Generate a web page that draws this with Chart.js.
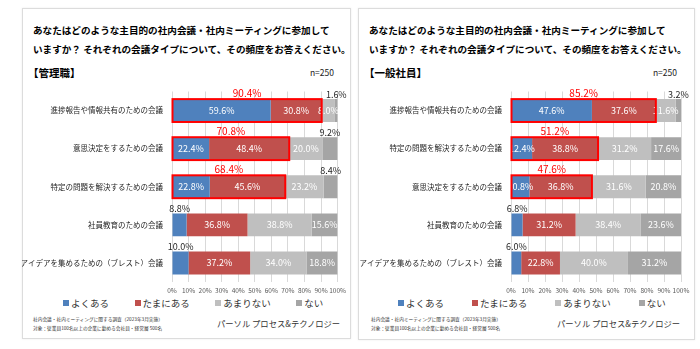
<!DOCTYPE html>
<html>
<head>
<meta charset="utf-8">
<script src="https://cdn.jsdelivr.net/npm/chart.js@4.4.0/dist/chart.umd.min.js"></script>
<style>
  body { margin: 0; width: 700px; height: 349px; background: #fff; position: relative; overflow: hidden;
         font-family: "Noto Sans CJK JP", sans-serif; color: #000; }
  .abs { position: absolute; white-space: nowrap; }
  .panel { position: absolute; border: 1px solid #dcdcdc; box-sizing: border-box; box-shadow: 0 0 2px rgba(0,0,0,0.08); }
  .title { font-size: 9.6px; font-weight: 700; line-height: 19px; }
  .group { font-size: 10.5px; font-weight: 700; line-height: 14px; }
  .n { font-size: 8.5px; line-height: 12px; text-align: right; width: 40px; color: #222; }
  .legend { display: flex; align-items: center; font-size: 9.5px; line-height: 12px; color: #333; }
  .legend .box { display: inline-block; width: 6px; height: 6px; margin-right: 2px; }
  .note { font-size: 4.7px; line-height: 9px; color: #333; }
  .brand { font-size: 8.3px; line-height: 12px; color: #333; }
  canvas { position: absolute; }
</style>
</head>
<body>

<div class="panel" style="left:22px; top:8px; width:329px; height:331px;"></div>
<div class="panel" style="left:358px; top:8px; width:337px; height:332px;"></div>

<div class="abs title" style="left:33px; top:20.5px;">あなたはどのような主目的の社内会議・社内ミーティングに参加して<br>いますか？ それぞれの会議タイプについて、その頻度をお答えください。</div>
<div class="abs title" style="left:369px; top:20.5px;">あなたはどのような主目的の社内会議・社内ミーティングに参加して<br>いますか？ それぞれの会議タイプについて、その頻度をお答えください。</div>

<div class="abs group" style="left:28px; top:66px;">【管理職】</div>
<div class="abs group" style="left:364px; top:66px;">【一般社員】</div>
<div class="abs n" style="left:294px; top:66px;">n=250</div>
<div class="abs n" style="left:637px; top:66px;">n=250</div>

<canvas id="chartMgr" width="329" height="218" style="left:22px; top:78px;"></canvas>
<canvas id="chartStaff" width="337" height="218" style="left:358px; top:78px;"></canvas>

<div class="abs legend" id="legendMgr" style="left:63px; top:297px; gap:25.5px;"></div>
<div class="abs legend" id="legendStaff" style="left:398px; top:297px; gap:28px;"></div>

<div class="abs note" style="left:33px; top:314.5px;">社内会議・社内ミーティングに関する調査（2023年3月実施）<br>対象：従業員100名以上の企業に勤める会社員・経営層 500名</div>
<div class="abs note" style="left:371px; top:314.5px;">社内会議・社内ミーティングに関する調査（2023年3月実施）<br>対象：従業員100名以上の企業に勤める会社員・経営層 500名</div>
<div class="abs brand" style="left:217px; top:317px;">パーソル プロセス&amp;テクノロジー</div>
<div class="abs brand" style="left:557px; top:317px;">パーソル プロセス&amp;テクノロジー</div>

<script>
'use strict';

// >>> data <<<
const seriesNames = ['よくある', 'たまにある', 'あまりない', 'ない'];
const seriesColors = ['#4f81bd', '#c0504d', '#bfbfbf', '#a5a5a5'];

// 管理職
const categoriesMgr = ['進捗報告や情報共有のための会議', '意思決定をするための会議', '特定の問題を解決するための会議', '社員教育のための会議', 'アイデアを集めるための（ブレスト）会議'];
const oftenMgr = [59.6, 22.4, 22.8, 8.8, 10.0];
const sometimesMgr = [30.8, 48.4, 45.6, 36.8, 37.2];
const rarelyMgr = [8.0, 20.0, 23.2, 38.8, 34.0];
const neverMgr = [1.6, 9.2, 8.4, 15.6, 18.8];
const outsideMgr = [[0, 3], [1, 3], [2, 3], [3, 0], [4, 0]]; // [row, series] labels drawn above bar
const boxedMgr = [0, 1, 2];

// 一般社員
const categoriesStaff = ['進捗報告や情報共有のための会議', '特定の問題を解決するための会議', '意思決定をするための会議', '社員教育のための会議', 'アイデアを集めるための（ブレスト）会議'];
const oftenStaff = [47.6, 12.4, 10.8, 6.8, 6.0];
const sometimesStaff = [37.6, 38.8, 36.8, 31.2, 22.8];
const rarelyStaff = [11.6, 31.2, 31.6, 38.4, 40.0];
const neverStaff = [3.2, 17.6, 20.8, 23.6, 31.2];
const outsideStaff = [[0, 3], [3, 0], [4, 0]];
const boxedStaff = [0, 1, 2];

// x axis ticks
const tickMin = 0;
const tickMax = 100;
const tickStep = 10;

const FONT = '"Noto Sans CJK JP", "Noto Sans", sans-serif';

// >>> plugin: segment labels, red boxes and sums <<<
const segLabels = {
  id: 'segLabels',
  afterDatasetsDraw(chart, args, opts) {
    const ctx = chart.ctx;
    ctx.save();
    ctx.textAlign = 'center';
    ctx.textBaseline = 'alphabetic';
    ctx.font = '9px ' + FONT;
    chart.data.datasets.forEach((ds, di) => {
      const meta = chart.getDatasetMeta(di);
      meta.data.forEach((bar, i) => {
        const p = bar.getProps(['x', 'y', 'base', 'height'], true);
        const cx = (p.x + p.base) / 2;
        const txt = ds.data[i].toFixed(1) + '%';
        const out = opts.outside.some(o => o[0] === i && o[1] === di);
        if (out) {
          ctx.fillStyle = '#262626';
          ctx.fillText(txt, cx, p.y - p.height / 2 - 1.5);
        } else {
          ctx.fillStyle = '#ffffff';
          ctx.fillText(txt, cx, p.y + 3.2);
        }
      });
    });

    // red frame round よくある + たまにある
    ctx.font = '10px ' + FONT;
    opts.boxed.forEach(i => {
      const b0 = chart.getDatasetMeta(0).data[i].getProps(['x', 'y', 'base', 'height'], true);
      const b1 = chart.getDatasetMeta(1).data[i].getProps(['x', 'y', 'base', 'height'], true);
      const left = b0.base;
      const right = b1.x;
      const top = b0.y - b0.height / 2;
      ctx.strokeStyle = '#ff0000';
      ctx.lineWidth = 2;
      ctx.strokeRect(left, top, right - left, b0.height);
      const sum = chart.data.datasets[0].data[i] + chart.data.datasets[1].data[i];
      ctx.fillStyle = '#ff0000';
      ctx.fillText(sum.toFixed(1) + '%', (left + right) / 2, top - 2);
    });
    ctx.restore();
  }
};

function makeChart(canvasId, categories, series, outside, boxed, yWidth, padRight) {
  const datasets = series.map((data, k) => ({
    label: seriesNames[k],
    data: data,
    backgroundColor: seriesColors[k],
    borderWidth: 0,
    barPercentage: 0.6,
    categoryPercentage: 1
  }));
  return new Chart(document.getElementById(canvasId), {
    type: 'bar',
    data: { labels: categories, datasets: datasets },
    plugins: [segLabels],
    options: {
      indexAxis: 'y',
      responsive: false,
      animation: false,
      layout: { padding: { top: 5, right: padRight, bottom: 0, left: 0 } },
      plugins: {
        legend: { display: false },
        tooltip: { enabled: false },
        segLabels: { outside: outside, boxed: boxed }
      },
      scales: {
        x: {
          stacked: true,
          min: tickMin,
          max: tickMax,
          grid: { color: '#d9d9d9', drawTicks: false },
          border: { display: false },
          ticks: {
            stepSize: tickStep,
            autoSkip: false,
            maxRotation: 0,
            padding: 5,
            color: '#595959',
            font: { family: FONT, size: 6.5 },
            callback: v => v + '%'
          },
          afterFit(s) { s.height = 14; }
        },
        y: {
          stacked: true,
          grid: { display: false, drawTicks: false },
          border: { display: false },
          ticks: {
            padding: 9,
            color: '#262626',
            font: { family: FONT, size: 7.5 }
          },
          afterFit(s) { s.width = yWidth; }
        }
      }
    }
  });
}

function buildLegend(id) {
  const el = document.getElementById(id);
  seriesNames.forEach((name, k) => {
    const item = document.createElement('span');
    item.style.display = 'inline-flex';
    item.style.alignItems = 'center';
    const box = document.createElement('span');
    box.className = 'box';
    box.style.background = seriesColors[k];
    item.appendChild(box);
    item.appendChild(document.createTextNode(name));
    el.appendChild(item);
  });
}

makeChart('chartMgr', categoriesMgr, [oftenMgr, sometimesMgr, rarelyMgr, neverMgr], outsideMgr, boxedMgr, 150, 13);
makeChart('chartStaff', categoriesStaff, [oftenStaff, sometimesStaff, rarelyStaff, neverStaff], outsideStaff, boxedStaff, 153, 14);
buildLegend('legendMgr');
buildLegend('legendStaff');
</script>
</body>
</html>
